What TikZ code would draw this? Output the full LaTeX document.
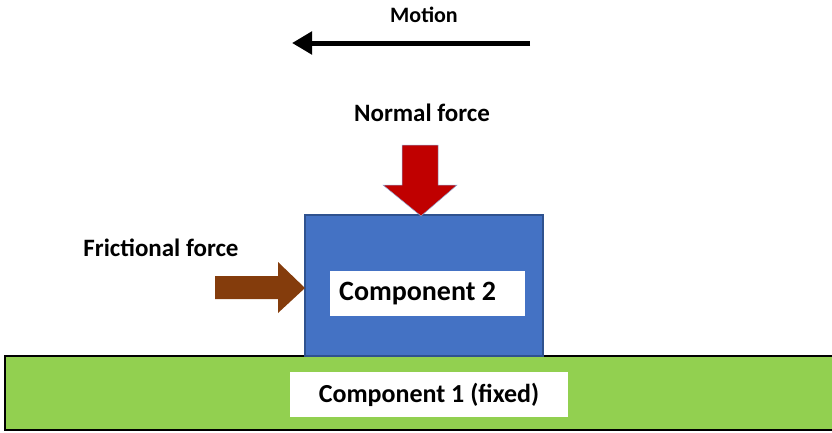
\documentclass[tikz,border=0pt]{standalone}
\usepackage{fontspec}
\setmainfont{Carlito}
\usetikzlibrary{arrows.meta}
\definecolor{blockblue}{HTML}{4472C4}
\definecolor{blockedge}{HTML}{2F528F}
\definecolor{basegreen}{HTML}{92D050}
\definecolor{forcered}{HTML}{C00000}
\definecolor{forcebrown}{HTML}{843C0C}
\definecolor{arrowedge}{HTML}{8FA9D6}
\tikzset{
  label text/.style={font=\bfseries\fontsize{25}{28}\selectfont, text=black, inner sep=0pt},
  tag box/.style={fill=white, draw=none, inner sep=0pt, font=\bfseries\fontsize{26}{30}\selectfont},
}
\begin{document}
\begin{tikzpicture}[x=1pt, y=-1pt]
\useasboundingbox (0,0) rectangle (832,432);

% fixed base (component 1)
\fill[basegreen] (5,356) rectangle (840,430);
\draw[black, line width=1.6pt] (840,356) -- (5,356) -- (5,430) -- (840,430);
\node[tag box, minimum width=278pt, minimum height=45pt] (c1) at (429,394.5) {Component 1 (fixed)};

% moving block (component 2)
\draw[fill=blockblue, draw=blockedge, line width=1.5pt] (305,215) rectangle (543,356);
\coordinate (blockleft) at (305,288);
\coordinate (blocktop) at (421,216);
\node[tag box, minimum width=195pt, minimum height=45pt] (c2box) at (427.5,293.5) {};
\node[label text, font=\bfseries\fontsize{28}{32}\selectfont, anchor=west] (c2) at (339,293.5) {Component 2};

% normal force arrow
\fill[forcered, draw=arrowedge, line width=0.5pt]
  (402,145) -- (438,145) -- (438,185) -- (457,185) -- (blocktop) -- (383,185) -- (402,185) -- cycle;
\node[label text] (normal) at (422,113) {Normal force};

% frictional force arrow
\fill[forcebrown]
  (215,276) -- (278,276) -- (278,262) -- (blockleft) -- (278,313) -- (278,299) -- (215,299) -- cycle;
\node[label text] (friction) at (161,248) {Frictional force};

% direction of motion
\node[label text, font=\bfseries\fontsize{22}{26}\selectfont] (motion) at (424,15) {Motion};
\coordinate (mstart) at (530,43);
\coordinate (mend) at (292,43);
\draw[line width=5pt, -{Triangle[length=20pt, width=22pt]}] (mstart) -- (mend);
\end{tikzpicture}
\end{document}
